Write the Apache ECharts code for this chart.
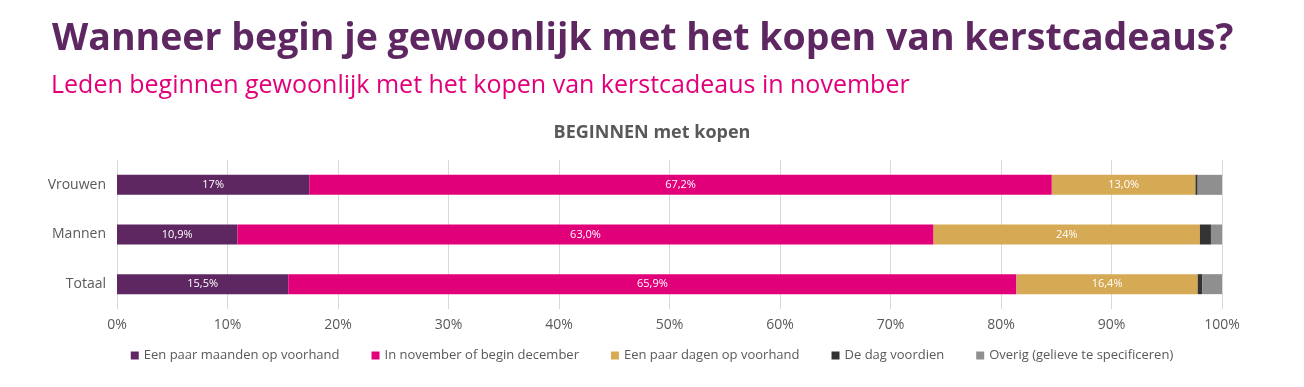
<!DOCTYPE html>
<html><head><meta charset="utf-8">
<script src="https://cdn.jsdelivr.net/npm/echarts@6/dist/echarts.min.js"></script>
<style>html,body{margin:0;padding:0;background:#fff}#c{width:1304px;height:387px}</style>
</head><body><div id="c"></div>
<script>
const categories = ['Vrouwen', 'Mannen', 'Totaal'];
const seriesNames = ['Een paar maanden op voorhand', 'In november of begin december', 'Een paar dagen op voorhand', 'De dag voordien', 'Overig (gelieve te specificeren)'];
const maanden = [17.4, 10.9, 15.5];
const november = [67.2, 63.0, 65.9];
const dagen = [13.0, 24.1, 16.4];
const dagVoordien = [0.2, 1.0, 0.4];
const overig = [2.2, 1.0, 1.8];
const maandenLabels = ['17%', '10,9%', '15,5%'];
const novemberLabels = ['67,2%', '63,0%', '65,9%'];
const dagenLabels = ['13,0%', '24%', '16,4%'];
const xTicks = ['0%', '10%', '20%', '30%', '40%', '50%', '60%', '70%', '80%', '90%', '100%'];

const colors = ['#5e2762', '#e2007a', '#d6a954', '#333333', '#8f8f8f'];
const FONT = '"Open Sans", Lato, sans-serif';
const chart = echarts.init(document.getElementById('c'), null, {renderer: 'canvas'});

function mk(i, data, labels) {
  return {
    name: seriesNames[i], type: 'bar', stack: 'all', data: data,
    barWidth: 20, itemStyle: {color: colors[i]},
    label: labels ? {show: true, position: 'inside', color: '#fff', fontSize: 11, fontFamily: FONT,
      formatter: p => labels[p.dataIndex]} : {show: false},
    emphasis: {disabled: true}
  };
}

chart.setOption({
  animation: false,
  title: [
    {text: 'Wanneer begin je gewoonlijk met het kopen van kerstcadeaus?', left: 47, top: 15,
     textStyle: {color: '#5e2762', fontSize: 37.5, fontWeight: 'bold', fontFamily: FONT}},
    {text: 'Leden beginnen gewoonlijk met het kopen van kerstcadeaus in november', left: 46, top: 68,
     textStyle: {color: '#e2007a', fontSize: 25, fontWeight: 'normal', fontFamily: FONT}},
    {text: 'BEGINNEN met kopen', left: 'center', top: 119,
     textStyle: {color: '#595959', fontSize: 18, fontWeight: 'bold', fontFamily: FONT}}
  ],
  legend: {
    bottom: 20, left: 'center', itemWidth: 8, itemHeight: 8, itemGap: 32, icon: 'rect',
    textStyle: {color: '#595959', fontSize: 13, fontFamily: FONT}, data: seriesNames
  },
  grid: {left: 117, right: 82, top: 160, bottom: 78, containLabel: false},
  xAxis: {
    type: 'value', min: 0, max: 100, interval: 10,
    axisLabel: {color: '#595959', fontSize: 14, fontFamily: FONT, margin: 9,
      formatter: v => xTicks[Math.round(v / 10)]},
    splitLine: {show: true, lineStyle: {color: '#d9d9d9', width: 1}},
    axisLine: {show: false}, axisTick: {show: false}
  },
  yAxis: {
    type: 'category', data: categories, inverse: true,
    axisLabel: {color: '#595959', fontSize: 14, fontFamily: FONT, margin: 11},
    axisLine: {show: true, lineStyle: {color: '#d9d9d9'}}, axisTick: {show: false}
  },
  series: [
    mk(0, maanden, maandenLabels),
    mk(1, november, novemberLabels),
    mk(2, dagen, dagenLabels),
    mk(3, dagVoordien, null),
    mk(4, overig, null)
  ]
});
</script></body></html>
